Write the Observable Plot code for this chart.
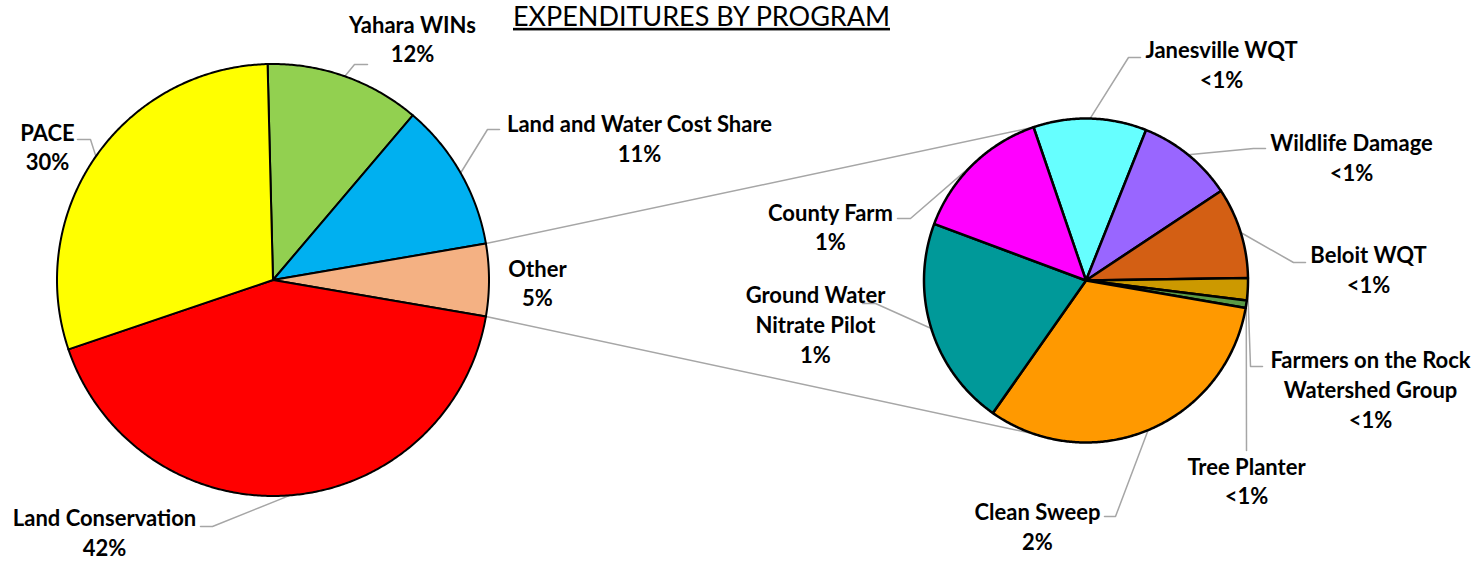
<!DOCTYPE html>
<html><head><meta charset="utf-8">
<script src="https://cdn.jsdelivr.net/npm/d3@7"></script>
<script src="https://cdn.jsdelivr.net/npm/@observablehq/plot@0.6"></script>
<style>body{margin:0;background:#fff}</style>
</head><body><div id="chart"></div>
<script>
// ---------- data ----------
const title = "EXPENDITURES BY PROGRAM";
const mainCategories = ["Yahara WINs", "Land and Water Cost Share", "Other", "Land Conservation", "PACE"];
const mainValues = [11.6, 11.1, 5.4, 42.1, 29.8];
const mainPctLabels = ["12%", "11%", "5%", "42%", "30%"];
const mainColors = ["#92D050", "#00B0F0", "#F4B183", "#FF0000", "#FFFF00"];

const subCategories = ["Janesville WQT", "Wildlife Damage", "Beloit WQT", "Farmers on the Rock\nWatershed Group", "Tree Planter", "Clean Sweep", "Ground Water\nNitrate Pilot", "County Farm"];
const subValues = [0.61, 0.52, 0.49, 0.12, 0.04, 1.73, 1.13, 0.76];
const subPctLabels = ["<1%", "<1%", "<1%", "<1%", "<1%", "2%", "1%", "1%"];
const subColors = ["#66FFFF", "#9966FF", "#D35F14", "#CC9900", "#5B9B45", "#FF9900", "#009999", "#FF00FF"];

// ---------- layout ----------
const W = 1482, H = 561;
const otherIndex = 2;
const mainPie = {cx: 272.5, cy: 279.5, r: 216};
const subPie = {cx: 1085.5, cy: 280, r: 162, start: -18.9};
const connectAngles = [-19, 199];
// label block centre, leader elbow, leader end (null = no leader)
const mainLabelLayout = [
  {x: 412, y: 37.5, elbow: [354, 64], end: [367, 64]},
  {x: 639, y: 137, elbow: [487, 129], end: [499, 129]},
  {x: 537, y: 281.5, elbow: null, end: null},
  {x: 104, y: 531, elbow: [212, 526], end: [200, 526]},
  {x: 47, y: 145.5, elbow: [90, 139], end: [77, 139]}
];
const subLabelLayout = [
  {x: 1221, y: 63, elbow: [1128, 57], end: [1140, 57]},
  {x: 1351, y: 156, elbow: [1253, 148], end: [1265, 148]},
  {x: 1368, y: 268, elbow: [1293, 262], end: [1305, 262]},
  {x: 1370, y: 388, elbow: [1250, 366], end: [1262, 366]},
  {x: 1246, y: 479.5, elbow: [1246, 450], end: [1246, 450]},
  {x: 1037, y: 525, elbow: [1115, 516], end: [1104, 516]},
  {x: 815, y: 323, elbow: [875, 303], end: [862, 303]},
  {x: 830, y: 225.5, elbow: [910, 218], end: [897, 218]}
];

// ---------- geometry ----------
const rad = d => d * Math.PI / 180;
const pt = (pie, a, r = pie.r) => ({x: pie.cx + r * Math.sin(rad(a)), y: pie.cy - r * Math.cos(rad(a))});
function slices(values, start) {
  const total = d3.sum(values);
  let a = start;
  return values.map((v, i) => {
    const a0 = a, a1 = a + v / total * 360;
    a = a1;
    return {i, a0, a1, mid: (a0 + a1) / 2};
  });
}
const mainTotal = d3.sum(mainValues);
const mainStart = 90 - (d3.sum(mainValues.slice(0, otherIndex)) + mainValues[otherIndex] / 2) / mainTotal * 360;
const mainSlices = slices(mainValues, mainStart);
const subSlices = slices(subValues, subPie.start);

function polygons(pie, sl, names, colors) {
  const pts = [];
  for (const s of sl) {
    const n = Math.max(2, Math.ceil((s.a1 - s.a0) / 0.5));
    pts.push({name: names[s.i], color: colors[s.i], x: pie.cx, y: pie.cy});
    for (let k = 0; k <= n; k++) {
      const p = pt(pie, s.a0 + (s.a1 - s.a0) * k / n);
      pts.push({name: names[s.i], color: colors[s.i], ...p});
    }
    pts.push({name: names[s.i], color: colors[s.i], x: pie.cx, y: pie.cy});
  }
  return pts;
}
const mainPts = polygons(mainPie, mainSlices, mainCategories, mainColors);
const subPts = polygons(subPie, subSlices, subCategories, subColors);

function leaders(pie, sl, names, layout) {
  const out = [];
  sl.forEach(s => {
    const L = layout[s.i];
    if (!L.elbow) return;
    const p = pt(pie, s.mid);
    out.push({k: names[s.i], ...p});
    out.push({k: names[s.i], x: L.elbow[0], y: L.elbow[1]});
    out.push({k: names[s.i], x: L.end[0], y: L.end[1]});
  });
  return out;
}
const leaderPts = [...leaders(mainPie, mainSlices, mainCategories, mainLabelLayout), ...leaders(subPie, subSlices, subCategories, subLabelLayout)];

const os = mainSlices[otherIndex];
const connectPts = [
  {k: "top", ...pt(mainPie, os.a0)}, {k: "top", ...pt(subPie, connectAngles[0])},
  {k: "bottom", ...pt(mainPie, os.a1)}, {k: "bottom", ...pt(subPie, connectAngles[1])}
];

const labelData = [
  ...mainCategories.map((c, i) => ({text: c + "\n" + mainPctLabels[i], x: mainLabelLayout[i].x, y: mainLabelLayout[i].y})),
  ...subCategories.map((c, i) => ({text: c + "\n" + subPctLabels[i], x: subLabelLayout[i].x, y: subLabelLayout[i].y}))
];

const chart = Plot.plot({
  width: W, height: H, margin: 0,
  x: {domain: [0, W], range: [0, W], axis: null},
  y: {domain: [0, H], range: [0, H], axis: null},
  color: {type: "identity"},
  style: {background: "#fff"},
  marks: [
    Plot.line(connectPts, {x: "x", y: "y", z: "k", stroke: "#A6A6A6", strokeWidth: 1.5}),
    Plot.line(leaderPts, {x: "x", y: "y", z: "k", stroke: "#A6A6A6", strokeWidth: 1.5}),
    Plot.line(mainPts, {x: "x", y: "y", z: "name", fill: "color", stroke: "black", strokeWidth: 2, strokeLinejoin: "round"}),
    Plot.line(subPts, {x: "x", y: "y", z: "name", fill: "color", stroke: "black", strokeWidth: 2.5, strokeLinejoin: "round"}),
    Plot.text(labelData, {x: "x", y: "y", text: "text", textAnchor: "middle", lineAnchor: "middle", lineHeight: 1.35, fontSize: 22, fontWeight: "bold", fontFamily: "Lato", fill: "black"}),
    Plot.text([title], {x: () => 701, y: () => 17, text: d => d, textAnchor: "middle", lineAnchor: "middle", fontSize: 26, fontFamily: "Lato", fill: "black"})
  ]
});
chart.querySelectorAll("text").forEach(t => {
  if (t.textContent === title) {
    t.style.textDecoration = "underline";
    t.setAttribute("textLength", 377);
    t.setAttribute("lengthAdjust", "spacingAndGlyphs");
  }
});
document.getElementById("chart").appendChild(chart);
</script>
</body></html>
